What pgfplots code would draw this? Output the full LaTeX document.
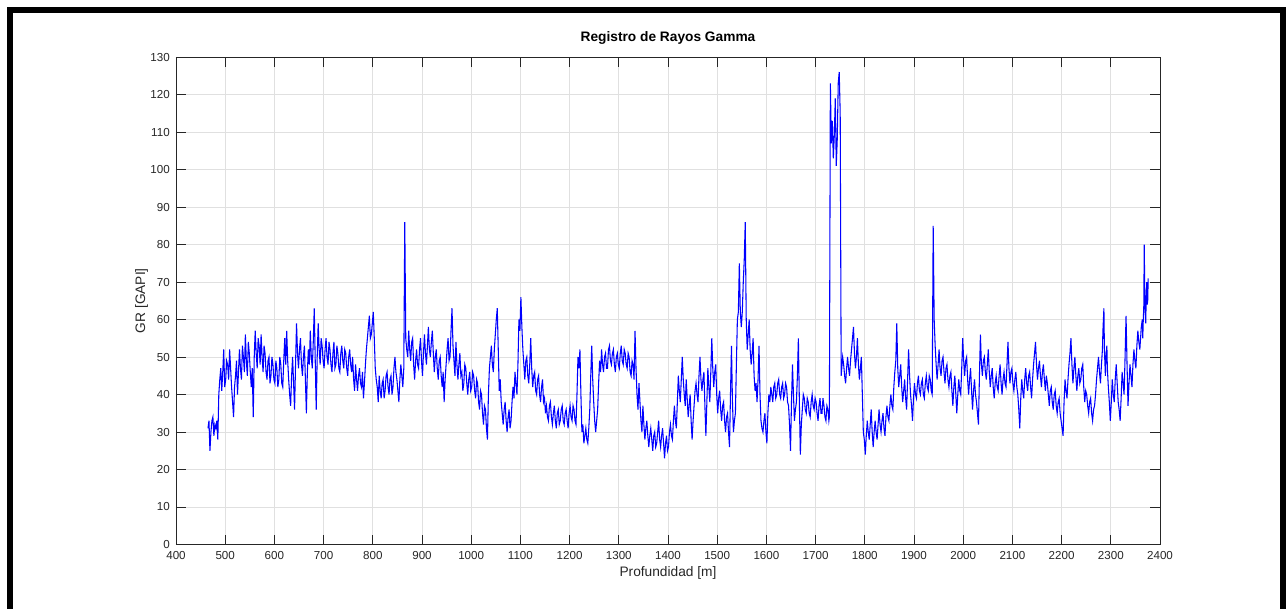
\documentclass[border=0pt]{standalone}
\usepackage{pgfplots}
\pgfplotsset{compat=1.18}
\usepackage{fontspec}
\setmainfont{Liberation Sans}

\definecolor{axgray}{RGB}{38,38,38}
\definecolor{gridgray}{RGB}{224,224,224}
\definecolor{grblue}{RGB}{0,0,255}

\begin{document}
\begin{tikzpicture}
% page = 1286 x 608 px, 1 px = 0.75pt, axis corner at (0,0)
\useasboundingbox (-132pt,-47.625pt) rectangle (832.5pt,408.375pt);
\draw[line width=4.5pt] (-124.5pt,-80pt) -- (-124.5pt,400.9pt) -- (829.9pt,400.9pt) -- (829.9pt,-80pt);

\begin{axis}[
  at={(0,0)}, anchor=south west,
  scale only axis, width=738pt, height=365.6pt,
  xmin=400, xmax=2400, ymin=0, ymax=130,
  xtick distance=100, ytick distance=10,
  grid=major,
  major grid style={gridgray, line width=0.6pt},
  axis line style={axgray, line width=0.6pt},
  tick style={axgray, line width=0.6pt},
  tick align=inside, major tick length=7.4pt,
  /pgf/number format/assume math mode=true,
  /pgf/number format/set thousands separator={},
  xticklabel style={font=\fontsize{8.7}{10}\selectfont, text=axgray, anchor=base, yshift=-11.6pt},
  yticklabel style={font=\fontsize{8.7}{10}\selectfont, text=axgray, anchor=east, inner sep=0pt, xshift=-4.5pt},
  title={Registro de Rayos Gamma},
  title style={font=\fontsize{10.3}{12}\selectfont\bfseries, text=black, at={(axis description cs:0.5,1.0159)}, anchor=base},
  xlabel={Profundidad [m]},
  xlabel style={font=\fontsize{10.3}{12}\selectfont, text=axgray, at={(axis description cs:0.5,-0.0662)}, anchor=base},
  ylabel={GR [GAPI]},
  ylabel style={font=\fontsize{10.3}{12}\selectfont, text=axgray, at={(axis description cs:-0.0315,0.5)}, anchor=base, rotate=0},
]
\addplot[grblue, line width=0.8pt] coordinates {
(465,31) (467,33) (469,25) (471,30) (473,33) (475,34) (477,29) (479,32) (481,31) (483,33) (485,28) (487,40) (489,44) (491,47) (493,41) (495,46) (497,52) (499,42) (501,44) (503,49)
(505,48) (507,44) (509,52) (511,47) (513,42) (515,38) (517,34) (519,42) (521,45) (523,49) (525,40) (527,46) (529,52) (531,47) (533,44) (535,53) (537,50) (539,46) (541,56) (543,49)
(545,45) (547,54) (549,51) (551,46) (553,42) (555,47) (557,34) (559,50) (561,57) (563,51) (565,47) (567,55) (569,53) (571,48) (573,56) (575,50) (577,46) (579,53) (581,51) (583,46)
(585,44) (587,49) (589,50) (591,43) (593,45) (595,50) (597,48) (599,44) (601,43) (603,49) (605,47) (607,42) (609,44) (611,50) (613,48) (615,43) (617,42) (619,49) (621,55) (623,48)
(625,57) (627,49) (629,44) (631,40) (633,37) (635,45) (637,50) (639,43) (641,36) (643,48) (645,59) (647,51) (649,47) (651,52) (653,55) (655,48) (657,45) (659,50) (661,53) (663,44)
(665,35) (667,46) (669,52) (671,48) (673,57) (675,50) (677,47) (679,54) (681,63) (683,49) (685,36) (687,50) (689,59) (691,52) (693,48) (695,55) (697,53) (699,49) (701,47) (703,52)
(705,55) (707,50) (709,48) (711,54) (713,52) (715,48) (717,46) (719,51) (721,54) (723,47) (725,48) (727,53) (729,51) (731,47) (733,46) (735,51) (737,53) (739,49) (741,47) (743,52)
(745,51) (747,47) (749,45) (751,50) (753,52) (755,48) (757,46) (759,50) (761,44) (763,41) (765,48) (767,44) (769,41) (771,45) (773,47) (775,43) (777,42) (779,46) (781,39) (783,43)
(785,48) (787,52) (789,55) (791,58) (793,61) (795,55) (797,56) (799,59) (801,62) (803,55) (805,47) (807,44) (809,42) (811,38) (813,45) (815,41) (817,39) (819,43) (821,44) (823,39)
(825,41) (827,45) (829,46) (831,42) (833,40) (835,44) (837,45) (839,40) (841,42) (843,47) (845,50) (847,46) (849,44) (851,41) (853,38) (855,44) (857,48) (859,45) (861,42) (863,47)
(865,86) (867,55) (869,52) (871,50) (873,57) (875,52) (877,49) (879,54) (881,55) (883,48) (885,44) (887,49) (889,52) (891,48) (893,47) (895,52) (897,55) (899,49) (901,45) (903,51)
(905,56) (907,51) (909,48) (911,53) (913,58) (915,52) (917,50) (919,54) (921,57) (923,51) (925,46) (927,50) (929,52) (931,47) (933,44) (935,49) (937,50) (939,45) (941,42) (943,46)
(945,38) (947,44) (949,48) (951,52) (953,55) (955,49) (957,50) (959,57) (961,63) (963,53) (965,49) (967,45) (969,54) (971,48) (973,44) (975,48) (977,51) (979,45) (981,46) (983,41)
(985,43) (987,48) (989,47) (991,43) (993,40) (995,44) (997,46) (999,41) (1001,42) (1003,46) (1005,45) (1007,41) (1009,39) (1011,44) (1013,43) (1015,38) (1017,36) (1019,41) (1021,40) (1023,35)
(1025,32) (1027,37) (1029,36) (1031,31) (1033,28) (1035,40) (1037,47) (1039,50) (1041,53) (1043,48) (1045,46) (1047,52) (1049,56) (1051,60) (1053,63) (1055,52) (1057,41) (1059,44) (1061,38) (1063,35)
(1065,32) (1067,36) (1069,38) (1071,33) (1073,30) (1075,34) (1077,36) (1079,31) (1081,33) (1083,38) (1085,42) (1087,39) (1089,46) (1091,43) (1093,40) (1095,48) (1097,60) (1099,57) (1101,66) (1103,58)
(1105,52) (1107,48) (1109,44) (1111,49) (1113,50) (1115,45) (1117,43) (1119,48) (1121,55) (1123,47) (1125,42) (1127,45) (1129,46) (1131,41) (1133,40) (1135,44) (1137,45) (1139,40) (1141,38) (1143,42)
(1145,44) (1147,38) (1149,39) (1151,35) (1153,37) (1155,34) (1157,33) (1159,37) (1161,38) (1163,34) (1165,32) (1167,35) (1169,37) (1171,33) (1173,31) (1175,35) (1177,36) (1179,32) (1181,33) (1183,36)
(1185,37) (1187,33) (1189,32) (1191,35) (1193,36) (1195,33) (1197,31) (1199,35) (1201,37) (1203,34) (1205,33) (1207,37) (1209,36) (1211,33) (1213,32) (1215,40) (1217,50) (1219,47) (1221,52) (1223,40)
(1225,30) (1227,32) (1229,27) (1231,29) (1233,31) (1235,28) (1237,27) (1239,31) (1241,36) (1243,45) (1245,53) (1247,44) (1249,38) (1251,33) (1253,30) (1255,33) (1257,36) (1259,43) (1261,49) (1263,46)
(1265,52) (1267,48) (1269,46) (1271,50) (1273,51) (1275,47) (1277,47) (1279,52) (1281,53) (1283,49) (1285,48) (1287,51) (1289,52) (1291,48) (1293,46) (1295,50) (1297,51) (1299,48) (1301,47) (1303,51)
(1305,53) (1307,49) (1309,48) (1311,52) (1313,51) (1315,48) (1317,47) (1319,51) (1321,50) (1323,46) (1325,45) (1327,49) (1329,48) (1331,44) (1333,57) (1335,47) (1337,40) (1339,36) (1341,43) (1343,38)
(1345,33) (1347,30) (1349,37) (1351,32) (1353,28) (1355,31) (1357,33) (1359,29) (1361,26) (1363,29) (1365,31) (1367,28) (1369,25) (1371,29) (1373,30) (1375,26) (1377,27) (1379,30) (1381,33) (1383,28)
(1385,26) (1387,29) (1389,31) (1391,27) (1393,23) (1395,27) (1397,29) (1399,25) (1401,26) (1403,30) (1405,32) (1407,29) (1409,28) (1411,33) (1413,37) (1415,33) (1417,31) (1419,38) (1421,45) (1423,41)
(1425,38) (1427,44) (1429,50) (1431,44) (1433,40) (1435,37) (1437,44) (1439,39) (1441,34) (1443,37) (1445,40) (1447,33) (1449,28) (1451,33) (1453,37) (1455,41) (1457,43) (1459,40) (1461,38) (1463,45)
(1465,50) (1467,44) (1469,41) (1471,44) (1473,46) (1475,37) (1477,29) (1479,38) (1481,47) (1483,42) (1485,38) (1487,46) (1489,55) (1491,47) (1493,42) (1495,46) (1497,48) (1499,40) (1501,35) (1503,39)
(1505,41) (1507,36) (1509,33) (1511,37) (1513,38) (1515,33) (1517,30) (1519,34) (1521,35) (1523,30) (1525,26) (1527,40) (1529,53) (1531,38) (1533,30) (1535,33) (1537,35) (1539,48) (1541,60) (1543,62)
(1545,75) (1547,62) (1549,58) (1551,62) (1553,70) (1555,76) (1557,86) (1559,60) (1561,52) (1563,56) (1565,60) (1567,52) (1569,48) (1571,51) (1573,55) (1575,45) (1577,41) (1579,43) (1581,38) (1583,44)
(1585,53) (1587,40) (1589,33) (1591,31) (1593,30) (1595,33) (1597,35) (1599,30) (1601,27) (1603,35) (1605,40) (1607,38) (1609,42) (1611,40) (1613,38) (1615,42) (1617,43) (1619,39) (1621,40) (1623,43)
(1625,44) (1627,40) (1629,39) (1631,42) (1633,43) (1635,39) (1637,40) (1639,43) (1641,42) (1643,38) (1645,37) (1647,32) (1649,25) (1651,38) (1653,48) (1655,40) (1657,33) (1659,36) (1661,38) (1663,45)
(1665,55) (1667,38) (1669,24) (1671,32) (1673,36) (1675,40) (1677,39) (1679,36) (1681,35) (1683,39) (1685,38) (1687,35) (1689,34) (1691,38) (1693,40) (1695,37) (1697,36) (1699,39) (1701,38) (1703,35)
(1705,33) (1707,37) (1709,39) (1711,35) (1713,35) (1715,39) (1717,37) (1719,34) (1721,33) (1723,37) (1725,36) (1727,33) (1728,34)
(1730,123) (1732,107) (1734,113) (1736,103) (1738,109) (1740,119) (1742,101) (1744,108) (1746,123) (1748,126) (1750,115) (1752,45)
(1755,50) (1757,48) (1759,45) (1761,43) (1763,47) (1765,50) (1767,47) (1769,45) (1771,49) (1773,52) (1775,55) (1777,58) (1779,51) (1781,47) (1783,50) (1785,55) (1787,48) (1789,44) (1791,47)
(1793,50) (1795,40) (1797,30) (1799,28) (1801,24) (1803,29) (1805,33) (1807,30) (1809,28) (1811,32) (1813,36) (1815,30) (1817,26) (1819,30) (1821,33) (1823,30) (1825,28) (1827,32) (1829,36) (1831,32)
(1833,30) (1835,33) (1837,35) (1839,31) (1841,29) (1843,34) (1845,37) (1847,34) (1849,33) (1851,37) (1853,40) (1855,37) (1857,36) (1859,42) (1861,46) (1863,49) (1865,59) (1867,47) (1869,42) (1871,45)
(1873,48) (1875,42) (1877,38) (1879,41) (1881,44) (1883,39) (1885,36) (1887,44) (1889,52) (1891,45) (1893,40) (1895,37) (1897,33) (1899,39) (1901,43) (1903,40) (1905,39) (1907,43) (1909,45) (1911,41)
(1913,40) (1915,43) (1917,44) (1919,40) (1921,39) (1923,43) (1925,45) (1927,42) (1929,41) (1931,45) (1933,44) (1935,41) (1937,40) (1939,85) (1941,60) (1943,53) (1945,48) (1947,44) (1949,48)
(1951,52) (1953,47) (1955,45) (1957,49) (1959,50) (1961,46) (1963,43) (1965,47) (1967,48) (1969,44) (1971,42) (1973,45) (1975,46) (1977,41) (1979,37) (1981,42) (1983,45) (1985,40) (1987,35) (1989,40)
(1991,44) (1993,41) (1995,40) (1997,47) (1999,55) (2001,49) (2003,45) (2005,49) (2007,50) (2009,44) (2011,40) (2013,44) (2015,47) (2017,41) (2019,36) (2021,41) (2023,44) (2025,40) (2027,38) (2029,35)
(2031,32) (2033,45) (2035,56) (2037,48) (2039,45) (2041,49) (2043,50) (2045,46) (2047,44) (2049,48) (2051,52) (2053,46) (2055,42) (2057,45) (2059,47) (2061,42) (2063,39) (2065,43) (2067,45) (2069,42)
(2071,41) (2073,45) (2075,48) (2077,43) (2079,40) (2081,44) (2083,46) (2085,43) (2087,42) (2089,48) (2091,54) (2093,47) (2095,43) (2097,46) (2099,47) (2101,43) (2103,41) (2105,44) (2107,46) (2109,42)
(2111,40) (2113,36) (2115,31) (2117,39) (2119,44) (2121,41) (2123,39) (2125,44) (2127,47) (2129,43) (2131,41) (2133,45) (2135,46) (2137,42) (2139,39) (2141,44) (2143,48) (2145,51) (2147,54) (2149,48)
(2151,44) (2153,47) (2155,49) (2157,45) (2159,42) (2161,46) (2163,48) (2165,44) (2167,41) (2169,45) (2171,43) (2173,40) (2175,37) (2177,41) (2179,42) (2181,38) (2183,36) (2185,40) (2187,41) (2189,37)
(2191,35) (2193,38) (2195,39) (2197,35) (2199,33) (2201,31) (2203,29) (2205,38) (2207,44) (2209,41) (2211,39) (2213,44) (2215,48) (2217,51) (2219,55) (2221,48) (2223,43) (2225,47) (2227,50) (2229,45)
(2231,41) (2233,45) (2235,47) (2237,43) (2239,44) (2241,47) (2243,48) (2245,42) (2247,38) (2249,41) (2251,40) (2253,37) (2255,35) (2257,38) (2259,39) (2261,35) (2263,33) (2265,36) (2267,37) (2269,40)
(2271,44) (2273,47) (2275,50) (2277,46) (2279,43) (2281,48) (2283,52) (2284,57) (2286,63) (2287,52) (2289,45) (2290,50) (2292,53) (2293,47) (2295,42) (2297,38) (2299,33) (2301,38) (2303,44) (2305,40)
(2307,38) (2309,44) (2311,48) (2313,43) (2315,38) (2317,36) (2319,33) (2321,39) (2323,46) (2325,43) (2327,40) (2329,50) (2331,61) (2333,48) (2335,37) (2337,43) (2339,48) (2341,45) (2343,42) (2345,48)
(2347,52) (2349,49) (2351,47) (2353,53) (2355,57) (2357,54) (2359,52) (2361,56) (2362,58) (2364,60) (2365,55) (2366,60) (2367,63) (2368,80) (2369,67) (2370,62) (2371,59) (2372,66) (2373,70) (2374,64)
(2375,65) (2376,71)
};
\end{axis}
\end{tikzpicture}
\end{document}
